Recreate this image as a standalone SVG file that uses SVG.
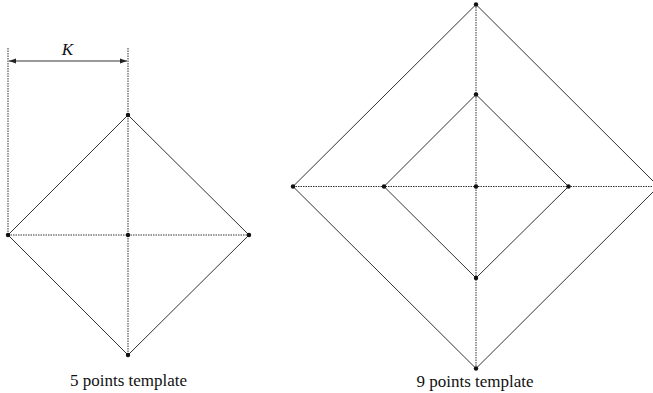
<svg xmlns="http://www.w3.org/2000/svg" width="653" height="393" viewBox="0 0 653 393">
<style>
.edge{fill:none;stroke:#333;stroke-width:1}
.dot{fill:none;stroke:#333;stroke-width:1;stroke-dasharray:1.5 1}
.pt{fill:#111}
.lbl{font-family:"Liberation Serif",serif;font-size:17px;fill:#111;text-anchor:middle}
</style>
<defs>
<marker id="ah" viewBox="0 0 10 10" refX="10" refY="5" markerWidth="7" markerHeight="7" orient="auto-start-reverse" markerUnits="userSpaceOnUse">
<path d="M0,1.5 L10,5 L0,8.5 z" fill="#222"/>
</marker>
</defs>
<rect width="653" height="393" fill="#fff"/>
<g id="connectors">
<line class="dot" x1="8" y1="48" x2="8" y2="235"/>
<line class="dot" x1="128" y1="48" x2="128" y2="355"/>
<line class="dot" x1="8" y1="235" x2="249" y2="235"/>
<line x1="9" y1="61" x2="127" y2="61" stroke="#777" stroke-width="1.5" marker-start="url(#ah)" marker-end="url(#ah)"/>
<line class="dot" x1="476" y1="4.5" x2="476" y2="368.5"/>
<line class="dot" x1="293" y1="186.5" x2="653" y2="186.5"/>
</g>
<g id="template5">
<polygon class="edge" points="128,115 249,235 128,355 8,235"/>
<circle class="pt" cx="128" cy="115" r="2.2"/>
<circle class="pt" cx="249" cy="235" r="2.2"/>
<circle class="pt" cx="128" cy="355" r="2.2"/>
<circle class="pt" cx="8" cy="235" r="2.2"/>
<circle class="pt" cx="128" cy="235" r="2.2"/>
<text class="lbl" x="128.5" y="386">5 points template</text>
</g>
<g id="K">
<text x="67.5" y="55" font-family="Liberation Serif,serif" font-style="italic" font-size="17" fill="#111" text-anchor="middle">K</text>
</g>
<g id="template9">
<polygon class="edge" points="476,4.5 658.5,186.5 476,368.5 293,186.5"/>
<polygon class="edge" points="476,94.5 568.5,186.5 476,278 384,186.5"/>
<circle class="pt" cx="476" cy="4.5" r="2.2"/>
<circle class="pt" cx="293" cy="186.5" r="2.2"/>
<circle class="pt" cx="476" cy="368.5" r="2.2"/>
<circle class="pt" cx="476" cy="94.5" r="2.2"/>
<circle class="pt" cx="568.5" cy="186.5" r="2.2"/>
<circle class="pt" cx="476" cy="278" r="2.2"/>
<circle class="pt" cx="384" cy="186.5" r="2.2"/>
<circle class="pt" cx="476" cy="186.5" r="2.2"/>
<text class="lbl" x="475" y="386.5">9 points template</text>
</g>
</svg>
